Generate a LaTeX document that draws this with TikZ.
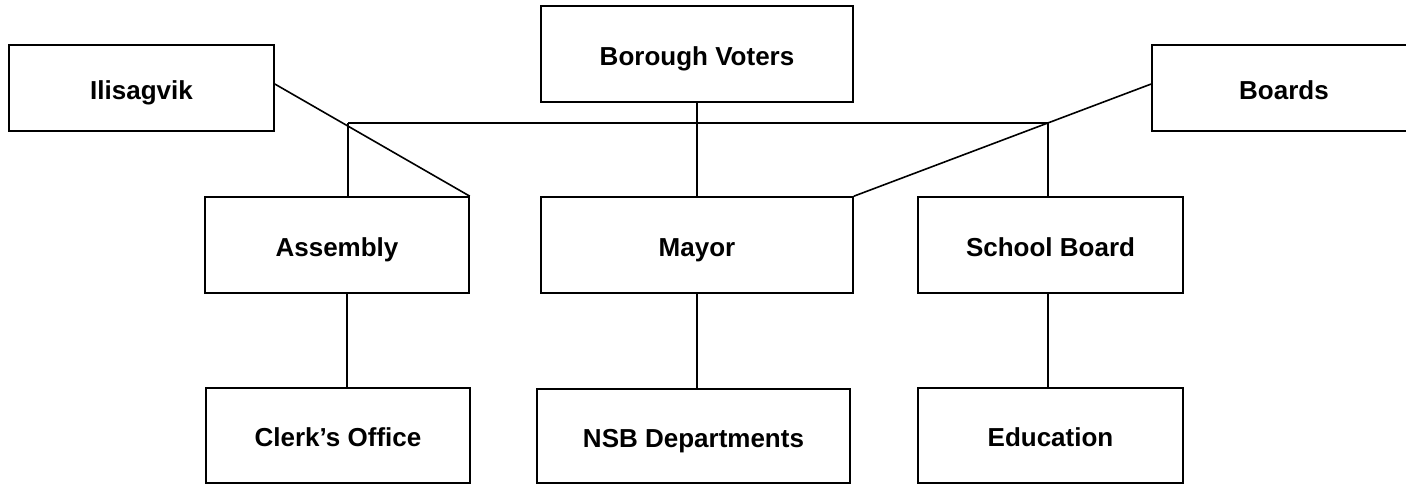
\documentclass[tikz,border=0pt]{standalone}
\usepackage{fontspec}
\setmainfont{Liberation Sans}
\begin{document}
\begin{tikzpicture}[x=1pt,y=-1pt,
  orgbox/.style={draw=black, line width=1.6pt, fill=white, inner sep=0pt,
    text height=22.7pt, text depth=0pt,
    font=\fontsize{26}{30}\selectfont\bfseries, anchor=center},
  link/.style={draw=black, line width=1.6pt}]
\useasboundingbox (0,0) rectangle (1406,485);
% nodes
\node[orgbox, minimum width=265pt, minimum height=86pt] (ilis) at (141.5,88) {Ilisagvik};
\node[orgbox, minimum width=312pt, minimum height=96pt] (voters) at (697,54) {Borough Voters};
\node[orgbox, minimum width=264pt, minimum height=86pt] (boards) at (1284,88) {Boards};
\node[orgbox, minimum width=264pt, minimum height=96pt] (assembly) at (337,245) {Assembly};
\node[orgbox, minimum width=312pt, minimum height=96pt] (mayor) at (697,245) {Mayor};
\node[orgbox, minimum width=265pt, minimum height=96pt] (school) at (1050.5,245) {School Board};
\node[orgbox, minimum width=264pt, minimum height=95pt] (clerk) at (338,435.5) {Clerk’s Office};
\node[orgbox, minimum width=313pt, minimum height=94pt] (nsb) at (693.5,436) {NSB Departments};
\node[orgbox, minimum width=265pt, minimum height=95pt] (edu) at (1050.5,435.5) {Education};
% bus coordinates
\coordinate (busL) at (348,123);
\coordinate (busR) at (1048,123);
% connectors
\draw[link] (voters.south) -- (mayor.north);
\draw[link] (busL) -- (busR);
\draw[link] (busL) -- (busL |- assembly.north);
\draw[link] (busR) -- (busR |- school.north);
\draw[link] ([yshift=4pt]ilis.east) -- (assembly.north east);
\draw[link] ([yshift=4pt]boards.west) -- (mayor.north east);
\draw[link] (assembly.south -| 347,0) -- (clerk.north -| 347,0);
\draw[link] (mayor.south) -- (mayor.south |- nsb.north);
\draw[link] (school.south -| busR) -- (edu.north -| busR);
\end{tikzpicture}
\end{document}
